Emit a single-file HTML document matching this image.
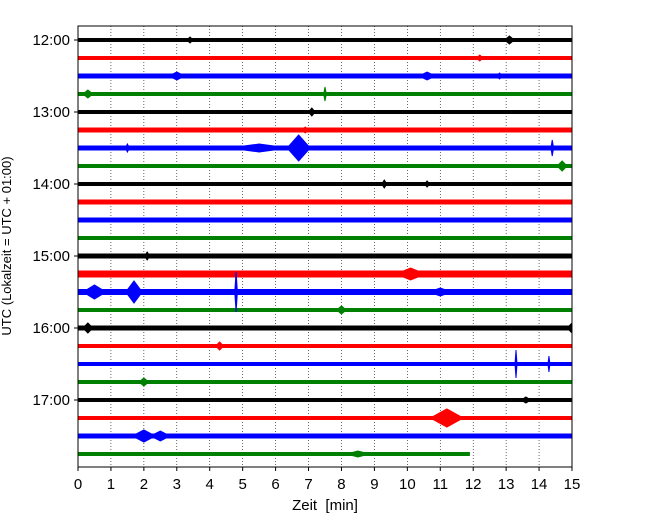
<!DOCTYPE html>
<html><head><meta charset="utf-8"><style>
body{margin:0;background:#fff;}
svg{display:block;font-family:"Liberation Sans","DejaVu Sans",sans-serif;}
</style></head><body>
<svg id="chart" width="650" height="520" viewBox="0 0 650 520" xmlns="http://www.w3.org/2000/svg">
<g id="grid"></g>
<g id="traces"></g>
<rect x="78" y="26" width="494" height="441" fill="none" stroke="#000" stroke-width="1"/>
<g id="xaxis"></g>
<g id="yaxis"></g>
<text x="325" y="510" font-size="15" text-anchor="middle" xml:space="preserve">Zeit  [min]</text>
<text transform="translate(11,246) rotate(-90)" font-size="13" text-anchor="middle">UTC (Lokalzeit = UTC + 01:00)</text>
</svg>
<script>
const rowColors = ["#000000","#ff0000","#0000ff","#008000"];
const rowNoise = [4,4,5,4, 4,5,5,4, 4,5,5,4, 5,7,6,4, 5,4,4,4, 4,4,5,4];
const rowEnd = [15,15,15,15,15,15,15,15,15,15,15,15,15,15,15,15,15,15,15,15,15,15,15,11.9];
const evRow = [0,0,1,2,2,2,3,3,4,5,6,6,6,6,7,8,8,12,13,14,14,14,14,15,16,16,17,18,18,19,20,21,22,22,23];
const evMin = [3.4,13.1,12.2,3.0,10.6,12.8,0.3,7.5,7.1,6.9,1.5,5.5,6.7,14.4,14.7,9.3,10.6,2.1,10.1,0.5,1.7,4.8,11.0,8.0,0.3,15.0,4.3,13.3,14.3,2.0,13.6,11.2,2.0,2.5,8.5];
const evAmp = [3,4,3,4,4,3,4,7,4,3,4,4,13,8,5,4,3,4,6,7,11,20,4,4,5,5,4,14,8,4,3,9,6,5,3];
const evDur = [0.1,0.15,0.1,0.25,0.25,0.1,0.15,0.04,0.1,0.1,0.06,0.9,0.35,0.04,0.15,0.08,0.08,0.08,0.45,0.35,0.25,0.04,0.35,0.15,0.15,0.15,0.12,0.03,0.03,0.15,0.15,0.5,0.35,0.3,0.35];
const xTicks = [0,1,2,3,4,5,6,7,8,9,10,11,12,13,14,15];
const yTickRows = [0,4,8,12,16,20];
const yTickLabels = ["12:00","13:00","14:00","15:00","16:00","17:00"];

const NS="http://www.w3.org/2000/svg";
const X0=78,X1=572,XMAX=15;
const x = m => X0 + m*(X1-X0)/XMAX;
const y = r => 40 + r*18;
function mk(tag,attrs,parent){const e=document.createElementNS(NS,tag);for(const k in attrs)e.setAttribute(k,attrs[k]);parent.appendChild(e);return e;}

const grid=document.getElementById('grid');
xTicks.forEach(t=>{
  if(t>0&&t<XMAX){
    const l=mk('line',{x1:x(t),x2:x(t),y1:26,y2:467,stroke:'#000','stroke-width':0.6,'stroke-dasharray':'1,2'},grid);
    
    
  }
});
const tr=document.getElementById('traces');
for(let r=0;r<24;r++){
  const c=rowColors[r%4];
  const l=mk('line',{x1:x(0),x2:x(rowEnd[r]),y1:y(r),y2:y(r),stroke:c,'stroke-width':rowNoise[r]},tr);
  
  
}
evRow.forEach((r,i)=>{
  const c=rowColors[r%4], m=evMin[i], a=evAmp[i], d=evDur[i], yc=y(r);
  const pts=[[x(Math.max(0,m-d)),yc],[x(m),yc-a],[x(Math.min(XMAX,m+d)),yc],[x(m),yc+a]].map(p=>p.join(',')).join(' ');
  const p=mk('polygon',{points:pts,fill:c,stroke:c,'stroke-width':1},tr);
  
  
});
const xa=document.getElementById('xaxis');
xTicks.forEach(t=>{
  const l=mk('line',{x1:x(t),x2:x(t),y1:467,y2:471,stroke:'#000'},xa);
  
  
  const tx=mk('text',{x:x(t),y:489,'font-size':15,'text-anchor':'middle'},xa);
  tx.textContent=t;
  
  
});
const ya=document.getElementById('yaxis');
yTickRows.forEach((r,i)=>{
  const l=mk('line',{x1:74,x2:78,y1:y(r),y2:y(r),stroke:'#000'},ya);
  
  
  const tx=mk('text',{x:70,y:y(r)+5,'font-size':15,'text-anchor':'end'},ya);
  tx.textContent=yTickLabels[i];
  
  
});
</script>
</body></html>
